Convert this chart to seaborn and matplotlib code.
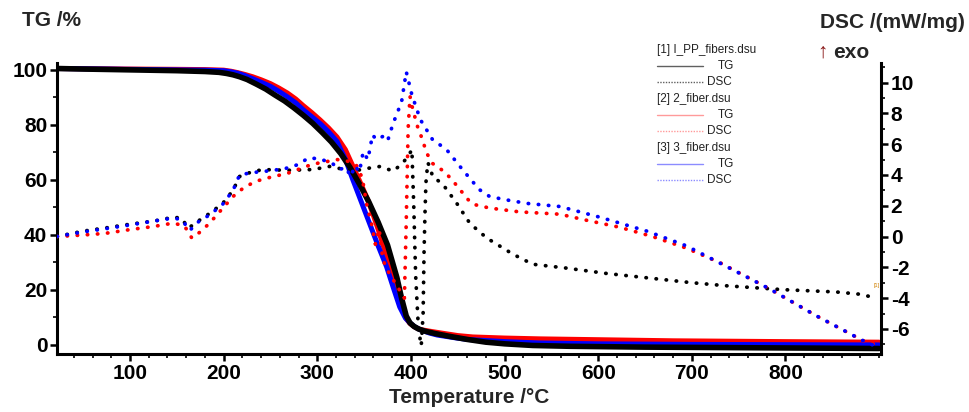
import numpy as np
import pandas as pd
import matplotlib
matplotlib.use('Agg')
import matplotlib.pyplot as plt
from matplotlib.lines import Line2D
from matplotlib.ticker import MultipleLocator
import seaborn as sns

sns.set_theme(style='white')
plt.rcParams['font.family'] = ['Liberation Sans', 'DejaVu Sans']
plt.rcParams['axes.unicode_minus'] = False

# ---- data ----
# TG curves (%)
t_tg1 = [22, 50, 100, 150, 180, 195, 203, 210, 217, 225,
         235, 245, 255, 265, 275, 285, 295, 305, 315, 325,
         335, 345, 355, 365, 375, 385, 390, 395, 399, 403,
         408, 415, 425, 440, 460, 480, 500, 530, 570, 650,
         750, 900]
tg1 = [100.5, 100.3, 100.0, 99.7, 99.4, 99.1, 98.7, 98.2, 97.5, 96.5,
       94.8, 93.0, 90.8, 88.7, 86.2, 83.5, 80.6, 77.3, 73.8, 69.6,
       64.5, 58.5, 52.0, 44.6, 36.3, 24.5, 17.0, 10.5, 8.0, 6.8,
       5.8, 5.0, 4.2, 3.2, 2.0, 1.0, 0.4, -0.2, -0.5, -0.8,
       -1.0, -1.3]

t_tg2 = [22, 100, 150, 180, 200, 208, 215, 223, 231, 240,
         250, 259, 268, 277, 285, 294, 303, 312, 321, 330,
         338, 346, 354, 360, 365, 371, 377, 384, 391, 395,
         399, 404, 410, 420, 431, 450, 466, 500, 538, 600,
         680, 800, 900]
tg2 = [100.5, 100.3, 100.2, 100.1, 99.9, 99.5, 99.0, 98.3, 97.5, 96.4,
       95.0, 93.4, 91.6, 89.4, 87.0, 84.5, 81.8, 78.9, 75.6, 71.0,
       65.0, 59.0, 52.7, 47.0, 42.0, 35.5, 28.4, 21.0, 13.8, 9.5,
       7.8, 6.5, 5.6, 5.0, 4.4, 3.4, 2.9, 2.5, 2.2, 1.9,
       1.5, 1.2, 1.0]

t_tg3 = [22, 100, 150, 180, 200, 208, 215, 223, 231, 240,
         250, 259, 268, 277, 285, 294, 303, 312, 321, 330,
         338, 347, 356, 365, 374, 381, 388, 394, 399, 404,
         410, 420, 428, 445, 460, 500, 538, 600, 700, 800,
         900]
tg3 = [100.5, 100.2, 100.0, 99.9, 99.7, 99.3, 98.8, 97.9, 96.8, 95.5,
       94.0, 92.2, 90.2, 88.0, 85.5, 83.0, 80.5, 77.5, 74.0, 67.5,
       60.0, 52.0, 44.0, 36.0, 28.4, 21.0, 13.8, 9.8, 8.0, 6.6,
       5.5, 4.3, 3.6, 2.7, 2.0, 1.2, 0.7, 0.4, 0.2, 0.1,
       0.0]

# DSC curves (mW/mg)
t_dsc1 = [22, 50, 73, 100, 125, 146, 155, 162, 170, 175,
          185, 199, 210, 217, 230, 242, 268, 295, 313, 321,
          338, 356, 367, 381, 390, 397, 401, 403, 405, 408,
          411, 413, 414, 415, 416, 418, 421, 423, 434, 449,
          463, 481, 509, 530, 566, 609, 655, 700, 737, 797,
          854, 880, 897]
dsc1 = [0.0, 0.35, 0.55, 0.8, 1.0, 1.25, 1.2, 0.55, 0.85, 1.1,
        1.5, 2.15, 3.0, 3.9, 4.2, 4.35, 4.3, 4.35, 4.55, 4.45,
        4.25, 4.45, 4.55, 4.25, 4.7, 5.2, 5.65, 2.0, -2.5, -6.0,
        -7.1, -5.0, -1.0, 1.5, 3.5, 4.8, 4.4, 3.9, 3.4, 2.15,
        0.85, -0.1, -1.15, -1.8, -2.05, -2.4, -2.7, -3.0, -3.2, -3.45,
        -3.6, -3.75, -4.0]

t_dsc2 = [22, 50, 73, 100, 125, 146, 158, 166, 175, 185,
          197, 210, 222, 235, 250, 268, 295, 313, 321, 332,
          342, 348, 353, 358, 362, 366, 370, 375, 381, 388,
          393, 395, 397, 399, 402, 407, 411, 417, 423, 436,
          445, 461, 466, 484, 516, 559, 588, 623, 658, 694,
          730, 783, 833, 887, 897]
dsc2 = [0.0, 0.1, 0.2, 0.45, 0.65, 0.87, 0.7, -0.1, 0.3, 0.87,
        1.7, 2.6, 3.2, 3.6, 3.85, 4.1, 4.7, 4.9, 5.0, 4.9,
        4.6, 3.8, 2.0, 0.8, -0.5, 0.5, -1.5, -2.2, -2.8, -3.5,
        -4.0, 1.0, 7.0, 9.1, 8.25, 7.15, 6.5, 5.4, 4.75, 4.2,
        3.6, 2.4, 2.1, 1.85, 1.6, 1.45, 1.05, 0.6, 0.0, -0.75,
        -1.7, -3.4, -5.15, -6.9, -7.0]

t_dsc3 = [22, 50, 73, 100, 125, 146, 155, 164, 170, 175,
          185, 199, 210, 217, 230, 246, 265, 281, 290, 303,
          317, 324, 330, 336, 340, 345, 349, 354, 359, 363,
          370, 375, 381, 390, 395, 401, 410, 423, 438, 455,
          473, 484, 500, 524, 559, 602, 652, 694, 726, 783,
          833, 887, 900]
dsc3 = [0.0, 0.3, 0.5, 0.75, 1.0, 1.2, 1.1, 0.4, 0.8, 1.05,
        1.4, 2.1, 3.0, 4.0, 4.15, 4.25, 4.4, 4.7, 5.1, 5.05,
        4.7, 4.35, 4.5, 3.9, 4.6, 4.2, 5.5, 5.0, 6.6, 6.3,
        6.5, 6.2, 7.35, 8.75, 10.7, 9.2, 7.6, 6.3, 5.65, 4.35,
        3.05, 2.6, 2.4, 2.15, 1.95, 1.25, 0.35, -0.6, -1.6, -3.4,
        -5.15, -6.9, -7.2]

files = ['[1] I_PP_fibers.dsu', '[2] 2_fiber.dsu', '[3] 3_fiber.dsu']
colors = ['#000000', '#ff0000', '#0000ff']
legend_colors = ['#606060', '#ff9a9a', '#8c8cff']

W, H = 969, 412


def px(x, y):
    return x / W, 1 - y / H


fig = plt.figure(figsize=(W / 100, H / 100), dpi=100)
ax = fig.add_axes([57 / W, 1 - 354 / H, (881 - 57) / W, (354 - 63) / H])
ax2 = ax.twinx()

dotted = (0, (0.1, 2.6))

# TG lines (left axis)
for t, y, c, lw in [(t_tg2, tg2, colors[1], 3.6), (t_tg3, tg3, colors[2], 3.6),
                    (t_tg1, tg1, colors[0], 4.0)]:
    sns.lineplot(x=t, y=y, ax=ax, color=c, lw=lw, estimator=None, sort=False,
                 solid_joinstyle='round')

# DSC dotted lines (right axis)
for t, y, c in [(t_dsc1, dsc1, colors[0]), (t_dsc2, dsc2, colors[1]),
                (t_dsc3, dsc3, colors[2])]:
    sns.lineplot(x=t, y=y, ax=ax2, color=c, lw=2.7, linestyle=dotted,
                 dash_capstyle='round', estimator=None, sort=False)

ax.set_xlim(22, 902)
ax.set_ylim(-3.3, 102.5)
ax2.set_ylim(-7.63, 11.27)

ax.set_xticks([100, 200, 300, 400, 500, 600, 700, 800])
ax.xaxis.set_minor_locator(MultipleLocator(20))
ax.set_yticks([0, 20, 40, 60, 80, 100])
ax.yaxis.set_minor_locator(MultipleLocator(10))
ax2.set_yticks([-6, -4, -2, 0, 2, 4, 6, 8, 10])
ax2.yaxis.set_minor_locator(MultipleLocator(1))

for a in (ax, ax2):
    a.grid(False)
    a.spines['top'].set_visible(False)
    a.tick_params(which='major', direction='out', length=5, width=1.8,
                  labelsize=15, pad=2, colors='black')
    a.tick_params(which='minor', direction='out', length=3, width=1.2, colors='black')
ax.spines['right'].set_visible(False)
ax.spines['left'].set_linewidth(2.2)
ax.spines['bottom'].set_linewidth(2.2)
ax.spines['left'].set_color('black')
ax.spines['bottom'].set_color('black')
ax2.spines['left'].set_visible(False)
ax2.spines['bottom'].set_visible(False)
ax2.spines['right'].set_linewidth(2.2)
ax2.spines['right'].set_color('black')
ax.tick_params(axis='x', which='both', bottom=True)
ax.tick_params(axis='y', which='both', left=True)
ax2.tick_params(axis='y', which='both', right=True)

for lab in ax.get_xticklabels() + ax.get_yticklabels() + ax2.get_yticklabels():
    lab.set_fontweight('bold')

ax.set_xlabel('Temperature /°C', fontsize=15, fontweight='bold', labelpad=4)
ax.set_ylabel('')
ax2.set_ylabel('')

fig.text(*px(22, 21), 'TG /%', fontsize=15, fontweight='bold', ha='left', va='center')
fig.text(*px(965, 22), 'DSC /(mW/mg)', fontsize=15, fontweight='bold', ha='right', va='center')
fig.text(*px(823, 52), '↑', fontsize=15, color='#8b1a1a', ha='center', va='center')
fig.text(*px(833, 52), 'exo', fontsize=15, fontweight='bold', ha='left', va='center')

# legend block
leg_y = [50, 99, 148]
for i, name in enumerate(files):
    y0 = leg_y[i]
    fig.text(*px(657, y0), name, fontsize=8.5, color='#222222', ha='left', va='center')
    fig.add_artist(Line2D([657 / W, 703 / W], [1 - (y0 + 16) / H] * 2,
                          transform=fig.transFigure, color=legend_colors[i], lw=1))
    fig.text(*px(718, y0 + 16), 'TG', fontsize=8.5, color='#222222', ha='left', va='center')
    fig.add_artist(Line2D([657 / W, 703 / W], [1 - (y0 + 32) / H] * 2,
                          transform=fig.transFigure, color=legend_colors[i], lw=1,
                          linestyle=(0, (1, 1))))
    fig.text(*px(707, y0 + 32), 'DSC', fontsize=8.5, color='#222222', ha='left', va='center')

ax2.text(897, -3.35, '[1]', fontsize=4, color='#d08000', ha='center', va='bottom')

fig.savefig('out.png', dpi=100)
